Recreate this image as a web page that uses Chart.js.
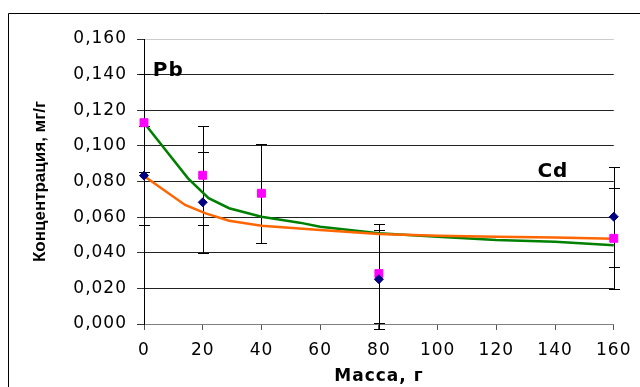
<!DOCTYPE html>
<html>
<head>
<meta charset="utf-8">
<script src="https://cdn.jsdelivr.net/npm/chart.js@4.4.0/dist/chart.umd.min.js"></script>
<style>
  html, body { margin: 0; padding: 0; background: #fff; }
  #wrap { width: 640px; height: 387px; }
</style>
</head>
<body>
<div id="wrap"><canvas id="chart-conc" width="640" height="387"></canvas></div>
<script>
// measured points (mass, g -> concentration, mg/g)
const massX = [0, 20, 40, 80, 160];
const diamondConc = [0.0833, 0.0683, null, 0.0251, 0.0602];
const diamondErr = [0.0280, 0.0282, null, 0.0277, 0.0280];
const squareConc = [0.1130, 0.0835, 0.0734, 0.0283, 0.0481];
const squareErr = [0.0275, 0.0277, 0.0278, 0.0279, 0.0283];

// trend curves
const greenX = [0, 15, 22, 29, 40, 53, 60, 80, 100, 120, 140, 160];
const greenY = [0.113, 0.0818, 0.0706, 0.065, 0.0602, 0.0569, 0.0546, 0.0509, 0.049, 0.0472, 0.0462, 0.0442];
const orangeX = [0, 14, 21, 29, 40, 60, 80, 100, 120, 140, 160];
const orangeY = [0.0831, 0.0668, 0.0621, 0.058, 0.0552, 0.0528, 0.0505, 0.0495, 0.049, 0.0485, 0.0479];

// axes
const xTickValues = [0, 20, 40, 60, 80, 100, 120, 140, 160];
const xTickLabels = ['0', '20', '40', '60', '80', '100', '120', '140', '160'];
const yTickValues = [0, 0.02, 0.04, 0.06, 0.08, 0.10, 0.12, 0.14, 0.16];
const yTickLabels = ['0,000', '0,020', '0,040', '0,060', '0,080', '0,100', '0,120', '0,140', '0,160'];

const xTitle = 'Масса, г';
const yTitle = 'Концентрация, мг/г';

// element labels, anchored in data units
const elementNames = ['Pb', 'Cd'];
const elementX = [3, 134];
const elementY = [0.139, 0.0824];

let canvas = document.getElementById('chart-conc');

const toPoints = (xs, ys) => xs.map((v, i) => ({ x: v, y: ys[i] }));

const framePlugin = {
   id: 'frame',
   beforeDraw(chart) {
      const ctx = chart.ctx;
      ctx.save();
      ctx.fillStyle = '#fff';
      ctx.fillRect(0, 0, chart.width, chart.height);
      ctx.strokeStyle = '#000';
      ctx.lineWidth = 1;
      ctx.beginPath();
      ctx.moveTo(8.5, chart.height);
      ctx.lineTo(8.5, 13.5);
      ctx.lineTo(chart.width, 13.5);
      ctx.stroke();
      ctx.restore();
      // the original text is drawn wide
      ctx.letterSpacing = '1px';
   },
   afterDraw(chart) {
      const ctx = chart.ctx;
      ctx.save();
      ctx.letterSpacing = '0px';
      ctx.fillStyle = '#000';
      ctx.font = 'bold 17px "Liberation Sans", Arial, sans-serif';
      ctx.textAlign = 'center';
      ctx.textBaseline = 'middle';
      const a = chart.chartArea;
      ctx.translate(40, (a.top + a.bottom) / 2);
      ctx.rotate(-Math.PI / 2);
      ctx.fillText(yTitle, 0, 0);
      ctx.restore();
   }
};

const errorBarPlugin = {
   id: 'errorBars',
   beforeDatasetsDraw(chart) {
      const { ctx, scales: { x, y } } = chart;
      ctx.save();
      ctx.strokeStyle = '#000';
      ctx.lineWidth = 1;
      [[diamondConc, diamondErr], [squareConc, squareErr]].forEach(([vals, errs]) => {
         vals.forEach((v, i) => {
            if (v === null) return;
            const px = Math.round(x.getPixelForValue(massX[i])) + 0.5;
            const top = Math.round(y.getPixelForValue(v + errs[i])) + 0.5;
            const bot = Math.round(y.getPixelForValue(v - errs[i])) + 0.5;
            ctx.beginPath();
            ctx.moveTo(px, top);
            ctx.lineTo(px, bot);
            ctx.moveTo(px - 5.5, top);
            ctx.lineTo(px + 5.5, top);
            ctx.moveTo(px - 5.5, bot);
            ctx.lineTo(px + 5.5, bot);
            ctx.stroke();
         });
      });
      ctx.restore();
   },
   afterDatasetsDraw(chart) {
      const { ctx, scales: { x, y } } = chart;
      ctx.save();
      ctx.fillStyle = '#000';
      ctx.font = 'bold 20px "DejaVu Sans", sans-serif';
      ctx.textAlign = 'left';
      ctx.textBaseline = 'alphabetic';
      elementNames.forEach((name, i) => {
         ctx.fillText(name, x.getPixelForValue(elementX[i]), y.getPixelForValue(elementY[i]));
      });
      ctx.restore();
   }
};

// first dataset is drawn on top
let concData = {
   datasets: [{
      label: 'diamonds',
      data: toPoints(massX, diamondConc).filter(p => p.y !== null),
      pointStyle: 'rectRot',
      pointRadius: 4.5,
      backgroundColor: '#000080',
      borderColor: '#000080',
      borderWidth: 1,
      clip: false
   }, {
      label: 'squares',
      data: toPoints(massX, squareConc),
      pointStyle: 'rect',
      pointRadius: 5.6,
      backgroundColor: '#ff00ff',
      borderColor: '#ff00ff',
      borderWidth: 1,
      clip: false
   }, {
      label: 'orange trend',
      data: toPoints(orangeX, orangeY),
      showLine: true,
      pointRadius: 0,
      borderColor: '#ff6600',
      borderWidth: 2.5,
      tension: 0,
      clip: false
   }, {
      label: 'green trend',
      data: toPoints(greenX, greenY),
      showLine: true,
      pointRadius: 0,
      borderColor: '#008000',
      borderWidth: 2.5,
      tension: 0,
      clip: false
   }]
};

let concOptions = {
   responsive: false,
   animation: false,
   layout: {
      padding: { left: 0, right: 22, top: 39, bottom: 0 }
   },
   scales: {
      x: {
         type: 'linear',
         min: 0,
         max: 160,
         afterBuildTicks: (scale) => { scale.ticks = xTickValues.map(v => ({ value: v })); },
         afterFit: (scale) => { scale.height = 63; },
         ticks: {
            callback: (v, i) => xTickLabels[i],
            color: '#000',
            font: { family: 'DejaVu Sans', size: 17 },
            padding: 10,
            maxRotation: 0,
            autoSkip: false
         },
         grid: {
            drawOnChartArea: false,
            drawTicks: true,
            tickLength: 6,
            color: '#555'
         },
         border: { color: '#808080', width: 1 },
         title: {
            display: true,
            text: xTitle,
            color: '#000',
            font: { family: 'DejaVu Sans', size: 17, weight: 'bold' },
            padding: { top: 0, bottom: 0 }
         }
      },
      y: {
         type: 'linear',
         min: 0,
         max: 0.16,
         afterBuildTicks: (scale) => { scale.ticks = yTickValues.map(v => ({ value: v })); },
         afterFit: (scale) => { scale.width = 144; },
         ticks: {
            callback: (v, i) => yTickLabels[i],
            color: '#000',
            font: { family: 'DejaVu Sans', size: 17 },
            padding: 10,
            autoSkip: false
         },
         grid: {
            color: (c) => c.tick.value >= 0.16 ? '#cccccc' : (c.tick.value === 0 ? '#808080' : '#222222'),
            tickColor: '#333333',
            tickLength: 7,
            lineWidth: 1
         },
         border: { color: '#000', width: 1 }
      }
   },
   plugins: {
      legend: { display: false },
      tooltip: { enabled: false }
   }
};

let concChart = new Chart(canvas, {
   type: 'scatter',
   data: concData,
   options: concOptions,
   plugins: [framePlugin, errorBarPlugin]
});
</script>
</body>
</html>
